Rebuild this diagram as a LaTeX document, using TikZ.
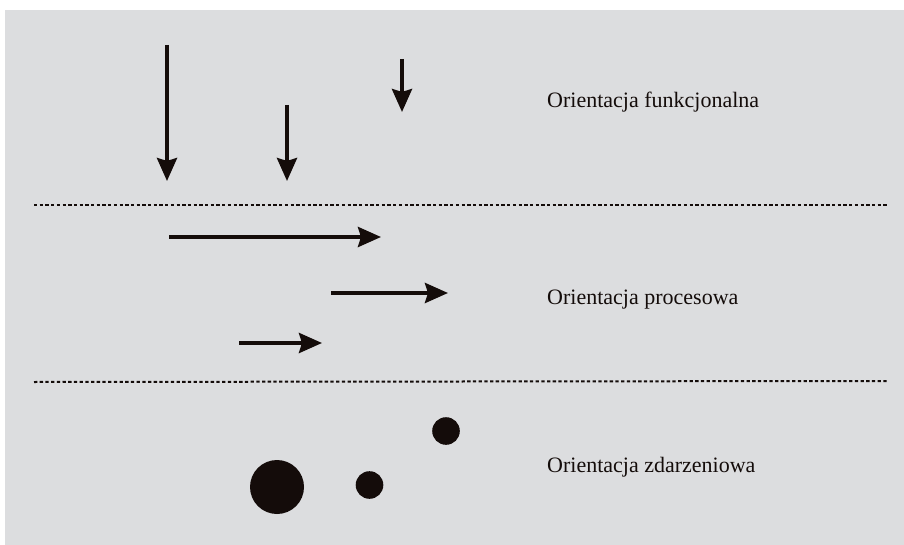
\documentclass[tikz,border=0pt]{standalone}
\usepackage{fontspec}
\setmainfont{Liberation Serif}
\usetikzlibrary{arrows.meta}
\definecolor{panel}{HTML}{DCDDDF}
\definecolor{ink}{HTML}{140C0A}

\tikzset{
  flow/.style={draw=ink, line width=4pt,
    -{Stealth[length=23pt, width=20pt, inset=3pt]}},
  divider/.style={draw=ink, line width=2pt, dash pattern=on 3.3pt off 2.4pt},
  dot/.style={fill=ink},
  label/.style={anchor=base west, text=ink, inner sep=0pt,
    font=\fontsize{22}{26}\selectfont}
}

\begin{document}
\begin{tikzpicture}[x=1pt, y=-1pt]
  \useasboundingbox (0,0) rectangle (904,545);
  \fill[white] (0,0) rectangle (904,545);
  \fill[panel] (5,10) rectangle (904,545);

  % separators
  \draw[divider] (34,205) -- (888,205);
  \draw[divider] (34,382) -- (888,381);

  % functional
  \draw[flow] (167,45) -- (167,181);
  \draw[flow] (287,105) -- (287,181);
  \draw[flow] (402,59) -- (402,112);
  \node[label] (funk) at (547,108) {Orientacja funkcjonalna};

  % process
  \draw[flow] (169,237) -- (381,237);
  \draw[flow] (331,293) -- (448,293);
  \draw[flow] (239,343) -- (322,343);
  \node[label] (proc) at (547,304) {Orientacja procesowa};

  % events
  \fill[dot] (277,487) circle (27);
  \fill[dot] (369.5,485) circle (13.8);
  \fill[dot] (446,431) circle (13.8);
  \node[label] (zdarz) at (547,472) {Orientacja zdarzeniowa};
\end{tikzpicture}
\end{document}
